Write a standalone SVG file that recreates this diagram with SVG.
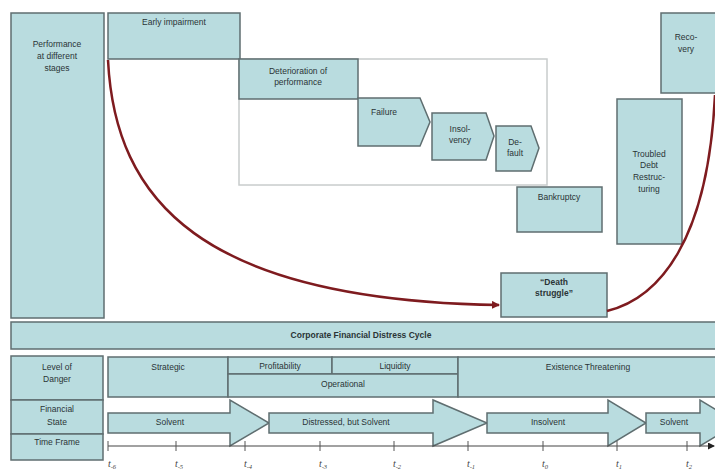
<svg xmlns="http://www.w3.org/2000/svg" width="715" height="473" viewBox="0 0 715 473">
<style>
.b{fill:#b9dcdf;stroke:#5f6e70;stroke-width:1.5}
.t{font-family:"Liberation Sans",Arial,sans-serif;font-size:8.5px;fill:#2a3436;text-anchor:middle}
.tb{font-weight:bold}
.ax{font-family:"Liberation Serif","Times New Roman",serif;font-style:italic;font-size:10px;fill:#444;text-anchor:middle}
.red{fill:none;stroke:#7e1b1f;stroke-width:2.5}
.tick{stroke:#555;stroke-width:1}
</style>
<defs>
<marker id="ar" markerWidth="8" markerHeight="8" refX="7" refY="4" orient="auto" markerUnits="userSpaceOnUse">
<path d="M0,0 L8,4 L0,8 z" fill="#7e1b1f"/>
</marker>
<marker id="ak" markerWidth="7" markerHeight="7" refX="6" refY="3.5" orient="auto" markerUnits="userSpaceOnUse">
<path d="M0,0 L7,3.5 L0,7 z" fill="#222"/>
</marker>
</defs>
<rect width="715" height="473" fill="#fff"/>
<rect x="239" y="59" width="308" height="126" fill="none" stroke="#c8cccc" stroke-width="1.5"/>
<g id="performance"><rect class="b" x="11" y="13" width="93" height="305"/>
<text class="t" x="57" y="47">Performance</text><text class="t" x="57" y="59">at different</text><text class="t" x="57" y="71">stages</text></g>
<g id="early"><rect class="b" x="108" y="13" width="132" height="46"/><text class="t" x="174" y="25">Early impairment</text></g>
<g id="deterioration"><rect class="b" x="239" y="59" width="119" height="40"/><text class="t" x="298" y="74">Deterioration of</text><text class="t" x="298" y="85">performance</text></g>
<g id="failure"><path class="b" d="M358,98 H420 L430,122 L420,146 H358 Z"/><text class="t" x="384" y="115">Failure</text></g>
<g id="insolvency"><path class="b" d="M432,113 H486 L494,136 L486,160 H432 Z"/><text class="t" x="460" y="132">Insol-</text><text class="t" x="460" y="143">vency</text></g>
<g id="default"><path class="b" d="M496,126 H531 L539,148 L531,171 H496 Z"/><text class="t" x="515" y="145">De-</text><text class="t" x="515" y="156">fault</text></g>
<g id="bankruptcy"><rect class="b" x="517" y="187" width="85" height="45"/><text class="t" x="559" y="200">Bankruptcy</text></g>
<g id="tdr"><rect class="b" x="617" y="99" width="65" height="145"/>
<text class="t" x="649" y="157">Troubled</text><text class="t" x="649" y="168">Debt</text><text class="t" x="649" y="180">Restruc-</text><text class="t" x="649" y="192">turing</text></g>
<g id="recovery"><rect class="b" x="661" y="13" width="60" height="80"/><text class="t" x="686" y="40">Reco-</text><text class="t" x="686" y="52">very</text></g>
<g id="death"><rect class="b" x="501" y="273" width="106" height="44"/><text class="t tb" x="554" y="285">“Death</text><text class="t tb" x="554" y="296">struggle”</text></g>
<g id="connectors">
<path class="red" d="M108,60 C115,200 200,300 499,305" marker-end="url(#ar)"/>
<path class="red" d="M607,311 C660,298 708,240 715,95"/>
</g>
<g id="cycle"><rect class="b" x="11" y="322" width="710" height="27"/><text class="t tb" x="361" y="338">Corporate Financial Distress Cycle</text></g>
<g id="labels">
<rect class="b" x="11" y="356" width="92" height="44"/><text class="t" x="57" y="370">Level of</text><text class="t" x="57" y="382">Danger</text>
<rect class="b" x="11" y="400" width="92" height="34"/><text class="t" x="57" y="412">Financial</text><text class="t" x="57" y="425">State</text>
<rect class="b" x="11" y="434" width="92" height="26"/><text class="t" x="57" y="445">Time Frame</text>
</g>
<g id="danger">
<rect class="b" x="108" y="357" width="120" height="40"/><text class="t" x="168" y="370">Strategic</text>
<rect class="b" x="228" y="357" width="104" height="17"/><text class="t" x="280" y="369">Profitability</text>
<rect class="b" x="332" y="357" width="126" height="17"/><text class="t" x="395" y="369">Liquidity</text>
<rect class="b" x="228" y="374" width="230" height="23"/><text class="t" x="343" y="387">Operational</text>
<rect class="b" x="458" y="357" width="263" height="40"/><text class="t" x="588" y="370">Existence Threatening</text>
</g>
<g id="states">
<path class="b" d="M108,413 H230 V400 L269,423 L230,446 V433 H108 Z"/><text class="t" x="170" y="425">Solvent</text>
<path class="b" d="M269,413 H433 V400 L487,423 L433,446 V433 H269 Z"/><text class="t" x="346" y="425">Distressed, but Solvent</text>
<path class="b" d="M487,413 H608 V400 L646,423 L608,446 V433 H487 Z"/><text class="t" x="548" y="425">Insolvent</text>
<path class="b" d="M646,413 H700 V400 L738,423 L700,446 V433 H646 Z"/><text class="t" x="674" y="425">Solvent</text>
</g>
<g id="timeline">
<line x1="108" y1="446" x2="714" y2="446" stroke="#444" stroke-width="1.2" marker-end="url(#ak)"/>
<g class="tick">
<line x1="108" y1="441" x2="108" y2="451"/><line x1="176" y1="441" x2="176" y2="451"/><line x1="245" y1="441" x2="245" y2="451"/><line x1="320" y1="441" x2="320" y2="451"/><line x1="394" y1="441" x2="394" y2="451"/><line x1="468" y1="441" x2="468" y2="451"/><line x1="543" y1="441" x2="543" y2="451"/><line x1="617" y1="441" x2="617" y2="451"/><line x1="687" y1="441" x2="687" y2="451"/>
</g>
<text class="ax" x="112" y="467">t<tspan font-size="6.5" dy="2">-6</tspan></text>
<text class="ax" x="179" y="467">t<tspan font-size="6.5" dy="2">-5</tspan></text>
<text class="ax" x="248" y="467">t<tspan font-size="6.5" dy="2">-4</tspan></text>
<text class="ax" x="323" y="467">t<tspan font-size="6.5" dy="2">-3</tspan></text>
<text class="ax" x="397" y="467">t<tspan font-size="6.5" dy="2">-2</tspan></text>
<text class="ax" x="471" y="467">t<tspan font-size="6.5" dy="2">-1</tspan></text>
<text class="ax" x="545" y="467">t<tspan font-size="6.5" dy="2">0</tspan></text>
<text class="ax" x="619" y="467">t<tspan font-size="6.5" dy="2">1</tspan></text>
<text class="ax" x="689" y="467">t<tspan font-size="6.5" dy="2">2</tspan></text>
</g>
</svg>
